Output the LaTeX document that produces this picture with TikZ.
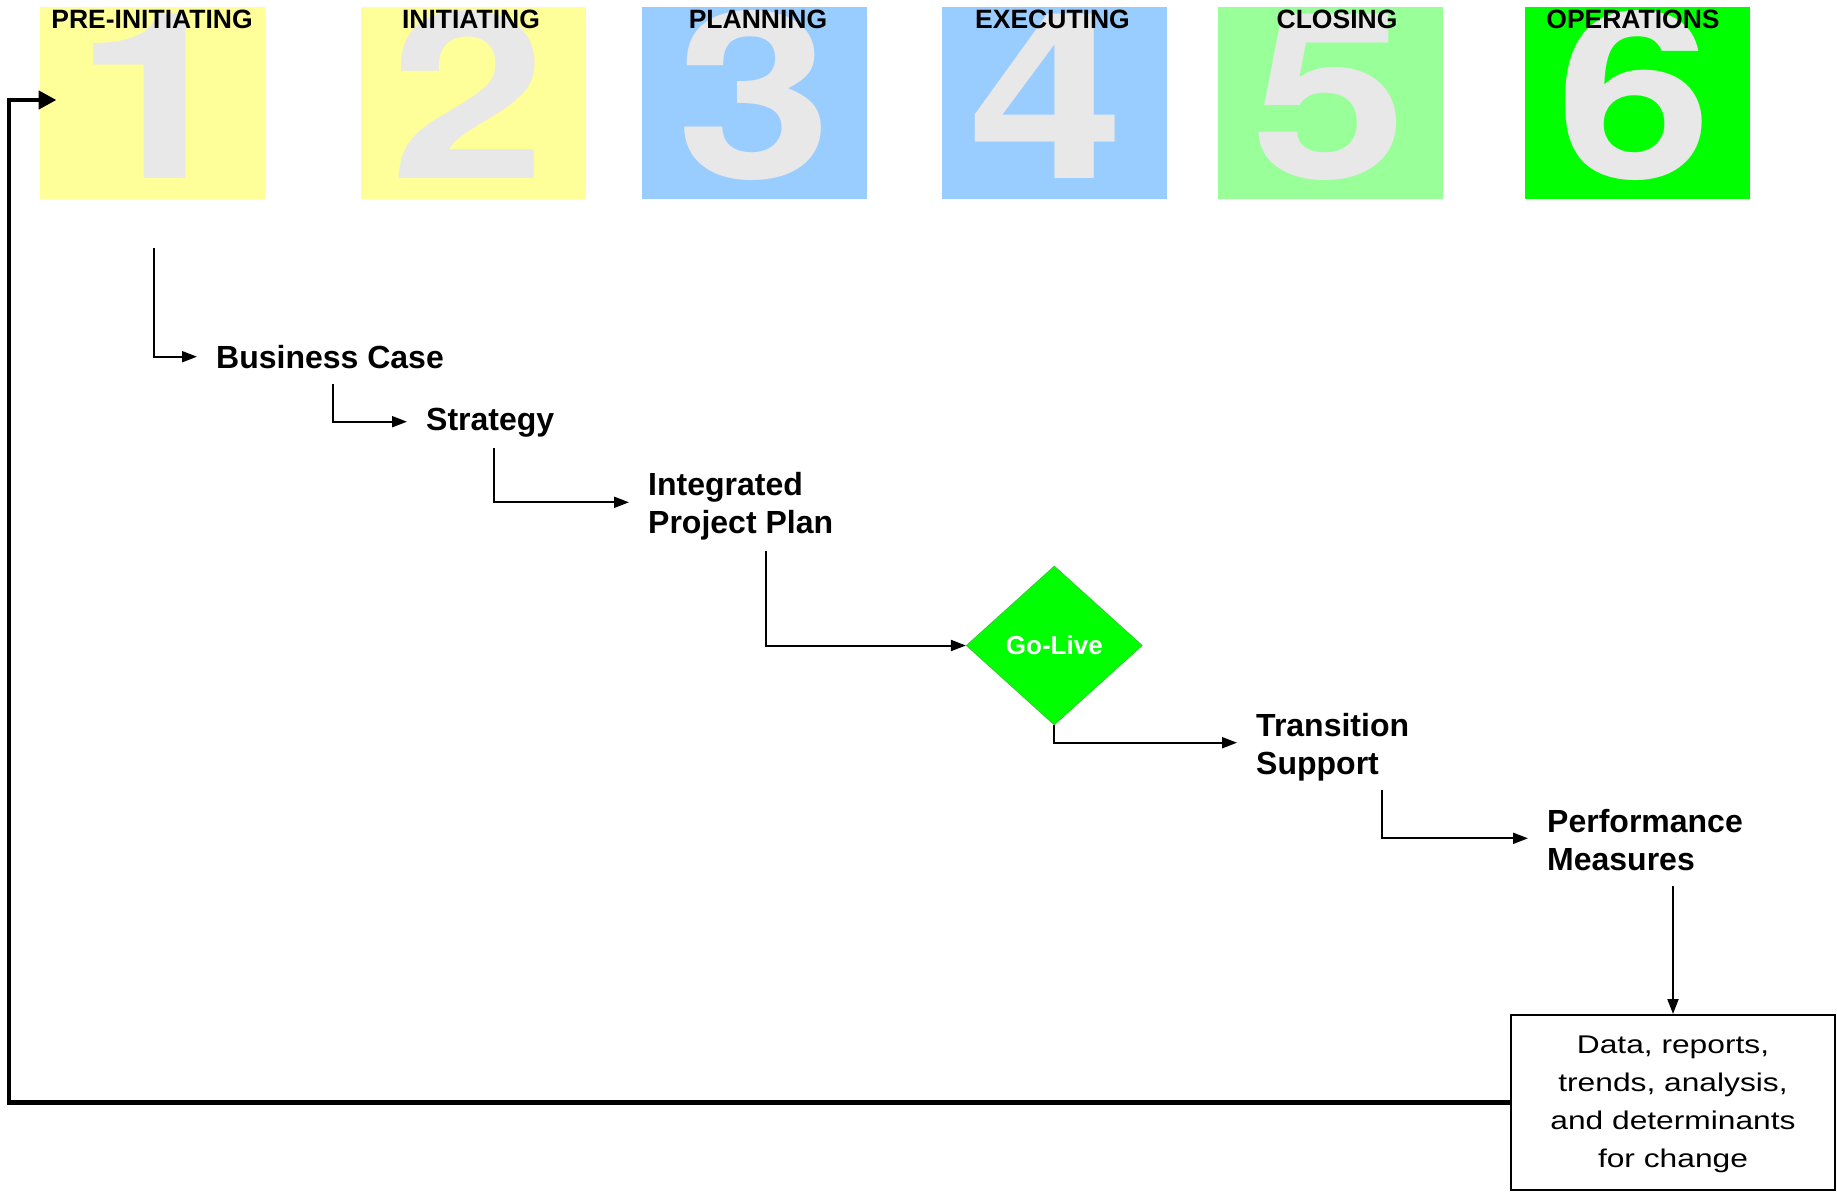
\documentclass[tikz,border=0pt]{standalone}
\usepackage{fontspec}
\setmainfont{Liberation Sans}
\newfontfamily\digitfont{TeX Gyre Heros}
\usetikzlibrary{arrows.meta,shapes.geometric}
\definecolor{phyellow}{HTML}{FFFF99}
\definecolor{phblue}{HTML}{99CCFF}
\definecolor{phlgreen}{HTML}{99FF99}
\definecolor{phgreen}{HTML}{00FF00}
\definecolor{digitgray}{HTML}{E8E8E8}
\definecolor{golivedraw}{HTML}{33CC33}
\tikzset{
  phase/.style={rectangle, minimum width=225pt, minimum height=192pt, inner sep=0pt},
  digit/.style={text=digitgray, font=\digitfont\bfseries\fontsize{232}{232}\selectfont, inner sep=0pt, anchor=base},
  phlabel/.style={font=\bfseries\fontsize{26.5}{28}\selectfont, inner sep=0pt, anchor=base},
  flow/.style={font=\bfseries\fontsize{32}{38}\selectfont, align=left, inner sep=0pt, anchor=base west},
  flowarrow/.style={line width=2pt, -{Triangle[length=15pt,width=11pt]}},
  gap/.style={shorten >=19pt},
  golive/.style={diamond, fill=phgreen, draw=golivedraw, line width=0.8pt, minimum width=176pt, minimum height=159pt, inner sep=2pt, text=white, font=\bfseries\fontsize{26}{28}\selectfont},
  databox/.style={rectangle, draw=black, line width=2pt, minimum width=324pt, minimum height=175pt, inner sep=0pt},
  fbarrow/.style={line width=4.5pt, -{Triangle[length=18pt,width=18pt]}}
}
\begin{document}
\begin{tikzpicture}[x=1pt,y=-1pt]
\useasboundingbox (0,0) rectangle (1837,1192);
\fill[white] (0,0) rectangle (1837,1192);

% phase boxes
\node[phase, fill=phyellow] (b1) at (152,103) {};
\node[phase, fill=phyellow] (b2) at (473,103) {};
\node[phase, fill=phblue] (b3) at (754.6,103) {};
\node[phase, fill=phblue] (b4) at (1054,103) {};
\node[phase, fill=phlgreen] (b5) at (1330,103) {};
\node[phase, fill=phgreen] (b6) at (1637,103) {};

% big digits
\node[digit] (d1) at (156,178) {\scalebox{1.28}[1]{1}};
\node[digit] (d2) at (469,178) {\scalebox{1.21}[1]{2}};
\node[digit] (d3) at (755,178) {\scalebox{1.21}[1]{3}};
\node[digit] (d4) at (1047,178) {\scalebox{1.21}[1]{4}};
\node[digit] (d5) at (1330,178) {\scalebox{1.21}[1]{5}};
\node[digit] (d6) at (1635,178) {\scalebox{1.21}[1]{6}};

% phase labels
\node[phlabel] (l1) at (152,28.5) {PRE-INITIATING};
\node[phlabel] (l2) at (471,28.5) {INITIATING};
\node[phlabel] (l3) at (758,28.5) {PLANNING};
\node[phlabel] (l4) at (1052.5,28.5) {EXECUTING};
\node[phlabel] (l5) at (1337,28.5) {CLOSING};
\node[phlabel] (l6) at (1633,28.5) {OPERATIONS};

% flow labels (base = last line)
\node[flow] (bc) at (216,368) {Business Case};
\node[flow] (st) at (426,430) {Strategy};
\node[flow] (ipp) at (648,533) {Integrated\\Project Plan};
\node[golive] (gl) at (1054.3,645.5) {Go-Live};
\node[flow] (ts) at (1256,774) {Transition\\Support};
\node[flow] (pm) at (1547,870) {Performance\\Measures};
\node[databox] (data) at (1673,1102.5) {\fontsize{25.6}{38}\selectfont\scalebox{1.24}[1]{\begin{tabular}{@{}c@{}}Data, reports,\\ trends, analysis,\\ and determinants\\ for change\end{tabular}}};

% connector start points
\coordinate (c1) at (154,248);
\coordinate (c2) at (333.3,384);
\coordinate (c3) at (494,448.3);
\coordinate (c4) at (765.7,551);
\coordinate (c6) at (1381.8,790);
\coordinate (c7) at (1673,886);
\coordinate (fbl) at (9,0);
\coordinate (fbin) at (56.5,100);

% connectors
\draw[flowarrow, gap] (c1) |- (bc.west |- 0,356.7);
\draw[flowarrow, gap] (c2) |- (st.west |- 0,421.7);
\draw[flowarrow, gap] (c3) |- (ipp.west |- 0,502.3);
\draw[flowarrow] (c4) |- (gl.west);
\draw[flowarrow, gap] (gl.south) |- (ts.west |- 0,742.7);
\draw[flowarrow, gap] (c6) |- (pm.west |- 0,838.3);
\draw[flowarrow] (c7) -- (data.north);
\draw[fbarrow] (data.west) -- (data.west -| fbl) |- (fbin);
\end{tikzpicture}
\end{document}
